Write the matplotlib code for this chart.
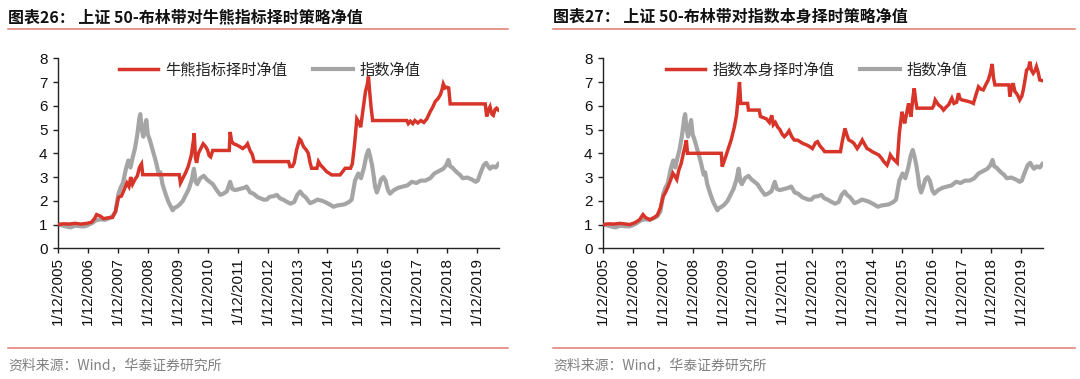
import matplotlib
matplotlib.use("Agg")
import matplotlib.pyplot as plt
from matplotlib.lines import Line2D
from matplotlib.font_manager import FontProperties

plt.rcParams['font.family'] = ['Liberation Sans', 'Noto Sans CJK SC', 'DejaVu Sans']

# ---------------- data (time in fractional years) ----------------
idx_t = [2005.03, 2005.15, 2005.30, 2005.45, 2005.60, 2005.75, 2005.90, 2006.00, 2006.15, 2006.30,
         2006.45, 2006.60, 2006.75, 2006.85, 2006.95, 2007.05, 2007.12, 2007.20, 2007.30, 2007.38,
         2007.45, 2007.52, 2007.60, 2007.68, 2007.75, 2007.78, 2007.83, 2007.88, 2007.93, 2007.98,
         2008.03, 2008.10, 2008.20, 2008.30, 2008.40, 2008.45, 2008.52, 2008.62, 2008.72, 2008.80,
         2008.86, 2008.92, 2009.00, 2009.10, 2009.20, 2009.30, 2009.40, 2009.50, 2009.57, 2009.63,
         2009.68, 2009.78, 2009.90, 2010.00, 2010.10, 2010.20, 2010.33, 2010.45, 2010.55, 2010.67,
         2010.78, 2010.85, 2010.95, 2011.10, 2011.25, 2011.33, 2011.45, 2011.56, 2011.70, 2011.80,
         2011.90, 2012.00, 2012.10, 2012.25, 2012.34, 2012.45, 2012.55, 2012.67, 2012.80, 2012.92,
         2013.02, 2013.12, 2013.20, 2013.30, 2013.45, 2013.55, 2013.70, 2013.85, 2013.95, 2014.10,
         2014.23, 2014.35, 2014.45, 2014.60, 2014.75, 2014.84, 2014.90, 2014.95, 2015.06, 2015.15,
         2015.25, 2015.33, 2015.40, 2015.46, 2015.52, 2015.58, 2015.62, 2015.68, 2015.75, 2015.82,
         2015.90, 2015.97, 2016.05, 2016.12, 2016.25, 2016.40, 2016.55, 2016.70, 2016.85, 2017.00,
         2017.15, 2017.30, 2017.46, 2017.60, 2017.75, 2017.90, 2018.00, 2018.07, 2018.13, 2018.20,
         2018.35, 2018.45, 2018.55, 2018.70, 2018.85, 2018.98, 2019.05, 2019.15, 2019.25, 2019.33,
         2019.40, 2019.46, 2019.55, 2019.65, 2019.74]
idx_v = [1.00, 0.97, 0.92, 0.88, 0.95, 0.93, 0.92, 0.96, 1.05, 1.18,
         1.22, 1.20, 1.28, 1.35, 1.55, 2.30, 2.55, 2.75, 3.35, 3.70,
         3.40, 3.80, 4.20, 4.80, 5.50, 5.65, 5.00, 4.70, 5.10, 5.40,
         4.80, 4.55, 4.10, 3.65, 3.10, 3.20, 2.70, 2.30, 1.95, 1.75,
         1.60, 1.70, 1.75, 1.85, 2.00, 2.25, 2.50, 2.90, 3.35, 2.80,
         2.70, 2.95, 3.05, 2.90, 2.80, 2.70, 2.45, 2.25, 2.30, 2.40,
         2.80, 2.50, 2.45, 2.50, 2.55, 2.60, 2.35, 2.30, 2.15, 2.10,
         2.05, 2.05, 2.17, 2.20, 2.25, 2.10, 2.05, 1.96, 1.88, 1.95,
         2.25, 2.39, 2.25, 2.15, 1.90, 1.95, 2.05, 2.00, 1.95, 1.85,
         1.75, 1.80, 1.82, 1.85, 1.95, 2.05, 2.50, 2.85, 3.15, 2.95,
         3.40, 3.90, 4.14, 3.85, 3.50, 3.00, 2.60, 2.35, 2.60, 2.90,
         3.00, 2.85, 2.45, 2.30, 2.45, 2.55, 2.60, 2.65, 2.80, 2.75,
         2.85, 2.85, 2.95, 3.15, 3.25, 3.35, 3.50, 3.72, 3.45, 3.40,
         3.20, 3.10, 2.95, 2.98, 2.90, 2.80, 2.85, 3.20, 3.50, 3.60,
         3.45, 3.35, 3.45, 3.40, 3.55]

bb_t = [2005.03, 2005.20, 2005.40, 2005.60, 2005.80, 2006.00, 2006.15, 2006.25, 2006.32, 2006.45,
        2006.55, 2006.70, 2006.85, 2006.95, 2007.05, 2007.15, 2007.25, 2007.33, 2007.40, 2007.46,
        2007.52, 2007.60, 2007.68, 2007.75, 2007.82, 2007.86, 2009.08, 2009.12, 2009.20, 2009.30,
        2009.38, 2009.48, 2009.55, 2009.58, 2009.62, 2009.66, 2009.72, 2009.80, 2009.88, 2009.95,
        2010.02, 2010.08, 2010.13, 2010.20, 2010.75, 2010.78, 2010.83, 2010.90, 2011.00, 2011.10,
        2011.20, 2011.30, 2011.36, 2011.45, 2011.52, 2011.58, 2012.73, 2012.78, 2012.86, 2012.92,
        2013.00, 2013.10, 2013.14, 2013.23, 2013.32, 2013.39, 2013.45, 2013.50, 2013.68, 2013.73,
        2013.80, 2013.88, 2014.00, 2014.10, 2014.17, 2014.45, 2014.55, 2014.62, 2014.80, 2014.86,
        2014.92, 2014.97, 2015.01, 2015.08, 2015.14, 2015.23, 2015.30, 2015.36, 2015.40, 2015.44,
        2015.49, 2015.54, 2016.68, 2016.73, 2016.80, 2016.88, 2016.95, 2017.05, 2017.15, 2017.25,
        2017.35, 2017.46, 2017.55, 2017.63, 2017.72, 2017.80, 2017.86, 2017.90, 2017.96, 2018.02,
        2018.08, 2018.13, 2019.30, 2019.35, 2019.40, 2019.46, 2019.52, 2019.57, 2019.63, 2019.68,
        2019.74]
bb_v = [1.00, 1.03, 1.02, 1.05, 1.02, 1.05, 1.10, 1.25, 1.42, 1.35,
        1.25, 1.28, 1.30, 1.55, 2.15, 2.20, 2.50, 2.75, 2.60, 3.00,
        2.70, 2.90, 3.05, 3.40, 3.55, 3.10, 3.10, 2.75, 2.95, 3.20,
        3.45, 3.90, 4.50, 4.85, 3.80, 3.60, 4.00, 4.20, 4.40, 4.30,
        4.15, 3.90, 3.85, 4.12, 4.12, 4.90, 4.50, 4.40, 4.35, 4.28,
        4.20, 4.30, 4.40, 4.10, 3.95, 3.65, 3.65, 3.44, 3.45, 3.60,
        4.15, 4.60, 4.55, 4.28, 4.15, 4.00, 3.60, 3.37, 3.37, 3.65,
        3.50, 3.40, 3.23, 3.15, 3.09, 3.09, 3.25, 3.37, 3.37, 3.55,
        4.20, 4.85, 5.45, 5.30, 5.10, 5.95, 6.60, 6.90, 7.23, 6.60,
        5.90, 5.38, 5.38, 5.25, 5.35, 5.25, 5.38, 5.28, 5.38, 5.30,
        5.45, 5.75, 5.95, 6.18, 6.30, 6.46, 6.70, 6.92, 6.75, 6.78,
        6.75, 6.08, 6.08, 5.55, 5.80, 5.96, 5.65, 5.60, 5.85, 5.90,
        5.82]

self_t = [2005.03, 2005.20, 2005.40, 2005.60, 2005.80, 2005.93, 2006.10, 2006.25, 2006.37, 2006.45,
          2006.60, 2006.75, 2006.85, 2006.95, 2007.04, 2007.12, 2007.21, 2007.30, 2007.37, 2007.43,
          2007.50, 2007.57, 2007.65, 2007.72, 2007.76, 2007.82, 2007.86, 2008.99, 2009.02, 2009.10,
          2009.21, 2009.32, 2009.43, 2009.50, 2009.55, 2009.60, 2009.64, 2009.87, 2009.90, 2010.26,
          2010.30, 2010.40, 2010.50, 2010.60, 2010.68, 2010.73, 2010.80, 2010.88, 2010.95, 2011.03,
          2011.10, 2011.18, 2011.26, 2011.35, 2011.43, 2011.55, 2011.71, 2011.85, 2011.95, 2012.04,
          2012.15, 2012.21, 2012.30, 2012.37, 2012.45, 2012.98, 2013.04, 2013.13, 2013.20, 2013.26,
          2013.35, 2013.43, 2013.54, 2013.62, 2013.71, 2013.80, 2013.87, 2013.95, 2014.04, 2014.15,
          2014.26, 2014.35, 2014.43, 2014.54, 2014.60, 2014.65, 2014.72, 2014.80, 2014.88, 2014.95,
          2015.04, 2015.09, 2015.13, 2015.20, 2015.26, 2015.30, 2015.34, 2015.40, 2015.45, 2015.50,
          2015.54, 2016.05, 2016.10, 2016.15, 2016.26, 2016.35, 2016.43, 2016.52, 2016.60, 2016.71,
          2016.78, 2016.87, 2016.93, 2016.98, 2017.04, 2017.15, 2017.26, 2017.35, 2017.43, 2017.50,
          2017.60, 2017.68, 2017.76, 2017.85, 2017.93, 2018.00, 2018.06, 2018.10, 2018.15, 2018.62,
          2018.65, 2018.70, 2018.76, 2018.82, 2018.87, 2018.93, 2018.98, 2019.05, 2019.10, 2019.16,
          2019.21, 2019.28, 2019.32, 2019.37, 2019.43, 2019.50, 2019.54, 2019.60, 2019.65, 2019.74]
self_v = [1.00, 1.03, 1.02, 1.05, 1.02, 1.00, 1.08, 1.20, 1.42, 1.30,
          1.20, 1.30, 1.40, 1.70, 2.17, 2.35, 2.60, 2.90, 3.16, 3.05,
          2.90, 3.30, 3.58, 4.00, 4.20, 4.55, 4.00, 4.00, 3.44, 3.72,
          4.14, 4.56, 5.12, 5.60, 6.30, 7.00, 6.10, 6.10, 5.82, 5.82,
          5.55, 5.50, 5.45, 5.30, 5.60, 5.20, 5.30, 5.10, 5.00, 4.80,
          4.70, 4.80, 4.95, 4.70, 4.56, 4.55, 4.42, 4.35, 4.28, 4.20,
          4.45, 4.49, 4.30, 4.20, 4.07, 4.07, 4.50, 5.05, 4.75, 4.56,
          4.50, 4.42, 4.20, 4.35, 4.56, 4.35, 4.20, 4.15, 4.07, 4.00,
          3.93, 3.80, 3.65, 3.50, 3.70, 3.93, 3.80, 3.70, 3.60, 4.84,
          5.75, 5.45, 5.26, 5.70, 6.10, 5.80, 5.54, 6.30, 6.74, 6.20,
          5.90, 5.90, 6.00, 6.25, 6.04, 5.95, 5.82, 5.95, 6.04, 6.32,
          6.10, 6.15, 6.53, 6.30, 6.25, 6.22, 6.18, 6.15, 6.10, 6.40,
          6.80, 6.70, 6.67, 6.90, 7.09, 7.40, 7.76, 7.20, 6.88, 6.88,
          6.39, 6.70, 6.95, 6.60, 6.53, 6.40, 6.25, 6.40, 6.67, 7.10,
          7.50, 7.60, 7.86, 7.50, 7.37, 7.50, 7.65, 7.40, 7.09, 7.06]

years = list(range(2005, 2020))
tick_labels = [f"1/12/{y}" for y in years]

titles = ["图表26： 上证 50-布林带对牛熊指标择时策略净值",
          "图表27： 上证 50-布林带对指数本身择时策略净值"]
strategy_names = ["牛熊指标择时净值", "指数本身择时净值"]
index_name = "指数净值"
source = "资料来源：Wind，华泰证券研究所"

# ---------------- figure ----------------
W, H = 1080, 379
fig = plt.figure(figsize=(W / 100, H / 100), dpi=100)

RED = "#d8352a"
GRAY = "#a5a5a5"
SEP = "#e07b6e"
cjk = ['Noto Sans CJK SC', 'DejaVu Sans']

panels = [
    dict(ax=(58, 499), title_x=8, line=(8, 508), strat_t=bb_t, strat_v=bb_v, leg_x=0.48),
    dict(ax=(603, 1043), title_x=553, line=(553, 1075), strat_t=self_t, strat_v=self_v, leg_x=0.486),
]
y_top, y_bot = 58.3, 248.3

for i, p in enumerate(panels):
    x0, x1 = p['ax']
    ax = fig.add_axes([x0 / W, 1 - y_bot / H, (x1 - x0) / W, (y_bot - y_top) / H])
    l1, = ax.plot(p['strat_t'], p['strat_v'], color=RED, lw=2.5, zorder=3,
                  solid_joinstyle='miter')
    l2, = ax.plot(idx_t, idx_v, color=GRAY, lw=3.0, zorder=2)
    ax.set_ylim(0, 8)
    ax.set_yticks(range(0, 9))
    ax.set_xlim(2005.03, 2019.76)
    ax.set_xticks([y + 11 / 365 for y in years])
    ax.set_xticklabels(tick_labels, rotation=90)
    for s in ['top', 'right']:
        ax.spines[s].set_visible(False)
    for s in ['left', 'bottom']:
        ax.spines[s].set_linewidth(1.0)
        ax.spines[s].set_color('#222222')
    ax.tick_params(axis='both', direction='out', length=3.5, width=1.0, labelsize=11,
                   colors='#222222', labelcolor='#111111')
    ax.tick_params(axis='y', pad=4)
    ax.tick_params(axis='x', pad=3)
    leg = ax.legend([l1, l2], [strategy_names[i], index_name], loc='center',
                    bbox_to_anchor=(p['leg_x'], 0.938), ncol=2, frameon=False,
                    prop=FontProperties(family=cjk, size=11), handlelength=2.6,
                    handletextpad=0.45, columnspacing=1.7, borderpad=0)
    for t in leg.get_texts():
        t.set_color('#222222')

    # title
    fig.text(p['title_x'] / W, 1 - 17 / H, titles[i], family=cjk, fontsize=11.5,
             fontweight='bold', va='center', ha='left', color='#111111')
    # separators
    lx0, lx1 = p['line']
    fig.add_artist(Line2D([lx0 / W, lx1 / W], [1 - 29 / H, 1 - 29 / H],
                          color=SEP, lw=1.1, transform=fig.transFigure))
    fig.add_artist(Line2D([lx0 / W, lx1 / W], [1 - 348 / H, 1 - 348 / H],
                          color=SEP, lw=1.1, transform=fig.transFigure))
    fig.text(p['title_x'] / W, 1 - 365 / H, source, family=cjk, fontsize=10,
             va='center', ha='left', color='#808080')

fig.savefig("out.png", dpi=100)
